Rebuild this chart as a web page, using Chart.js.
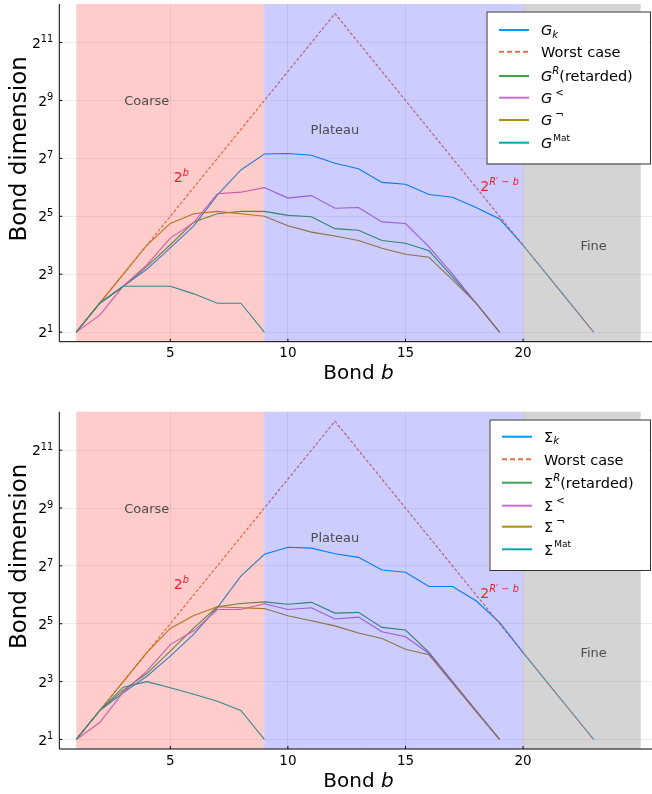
<!DOCTYPE html>
<html><head><meta charset="utf-8">
<script src="https://cdn.jsdelivr.net/npm/chart.js@4.4.1/dist/chart.umd.min.js"></script>
<style>
html,body{margin:0;padding:0;background:#fff;overflow:hidden;}
body{width:652px;height:794px;position:relative;}
.panel{position:absolute;left:0;width:660px;height:397px;}
</style></head><body>
<div class="panel" style="top:0"><canvas id="topChart"></canvas></div>
<div class="panel" style="top:397px"><canvas id="bottomChart"></canvas></div>
<script>
// ---------------- data ----------------
const bonds = [1,2,3,4,5,6,7,8,9,10,11,12,13,14,15,16,17,18,19,20,21,22,23];
const worstCase = [2,4,8,16,32,64,128,256,512,1024,2048,4096,2048,1024,512,256,128,64,32,16,8,4,2];

const gK         = [2,4,6,9,15,25.5,53,97,142,144,138,114,100,72,69,54,50.5,39.5,30,16,8,4,2];
const gRetarded  = [2,4,6,9.6,16.2,28,34,36,36,32.7,31.7,23.8,22.9,17.9,16.8,14,7.5,4,2];
const gLesser    = [2,3,6,10,19,27.5,55,57,63.6,49.5,52.5,38.8,39.5,28,26.9,15.4,8,4,2];
const gLeftMixed = [2,4,8,16,27,34,36,34,32,25.5,21.9,20,17.9,14.9,12.9,12,7,4,2];
const gMatsubara = [2,4,6,6,6,5,4,4,2];

const sigmaK         = [2,4,6.1,9.1,14.7,25,47,100,169,200,196,171,157,116,110,78,78,55.5,33,16,8,4,2];
const sigmaRetarded  = [2,4,6.5,9.7,16.6,29,48,52,54,51,53.4,41.3,42,29.3,27.5,16.1,8,4,2];
const sigmaLesser    = [2,3,6.2,10.3,19.4,27,45,45,51.6,45,47,35.8,37.5,26.4,23.4,15.7,8,4,2];
const sigmaLeftMixed = [2,4,8,16,28.6,39,48,47,46,38.8,34.4,30.4,25.6,22.5,17.4,15.2,7.7,3.9,2];
const sigmaMatsubara = [2,4,7,8,6.9,5.9,5,4,2];

const xTickValues = [5,10,15,20];
const yTickExponents = [1,3,5,7,9,11];
const regionNames = ['Coarse','Plateau','Fine'];
const regionBounds = [[1,9],[9,20],[20,25]];

// ---------------- styles / layout ----------------
const FONT = '"DejaVu Sans", sans-serif';
const COLORS = ['#009AFA','#E36F47','#3EA44E','#C271D2','#AC8E18','#00A9AD'];
const REGION_FILL = ['rgba(255,0,0,0.2)','rgba(0,0,255,0.2)','rgba(128,128,128,0.34)'];
const regionLabelPos = [[4,9],[12,8],[23,4]];   // (bond, log2 of value)

function pts(vals){ return vals.map((v,i)=>({x:bonds[i], y:v})); }

function drawRich(ctx, parts, x, yMid, align, size, color, supRaise, subDrop){
  supRaise = supRaise==null ? 0.5 : supRaise;
  subDrop = subDrop==null ? 0.16 : subDrop;
  const items = parts.map(p=>{
    const s = (p.sup||p.sub) ? size*(p.scale||0.7) : size;
    const font = (p.it?'italic ':'') + s + 'px ' + FONT;
    ctx.font = font;
    return {p, font, w: ctx.measureText(p.t).width, pre: p.gap||0};
  });
  const total = items.reduce((a,it)=>a+it.w+it.pre,0);
  let cx = align==='center' ? x-total/2 : (align==='right' ? x-total : x);
  const base = yMid + 0.364*size;
  ctx.fillStyle = color; ctx.textAlign='left'; ctx.textBaseline='alphabetic';
  items.forEach(it=>{
    cx += it.pre;
    ctx.font = it.font;
    let by = base;
    if (it.p.sup) by = base - supRaise*size;
    if (it.p.sub) by = base + subDrop*size;
    ctx.fillText(it.p.t, cx, by);
    cx += it.w;
  });
  return total;
}

const panelPlugin = {
  id:'panel',
  afterDatasetsDraw(chart){
    const {ctx, chartArea:a, scales:{x}} = chart;
    ctx.save();
    regionBounds.forEach((r,i)=>{
      const x0 = x.getPixelForValue(r[0]), x1 = x.getPixelForValue(r[1]);
      ctx.fillStyle = REGION_FILL[i];
      ctx.fillRect(x0, a.top, x1-x0, a.bottom-a.top);
    });
    ctx.restore();
  },
  afterDraw(chart){
    const {ctx, chartArea:a, scales:{x,y}} = chart;
    const o = chart.options.plugins.panel;
    ctx.save();
    // region labels
    regionNames.forEach((n,i)=>{
      const p = regionLabelPos[i];
      drawRich(ctx,[{t:n}], x.getPixelForValue(p[0]), y.getPixelForValue(Math.pow(2,p[1])), 'center', 13, '#4d4d4d');
    });
    // 2^b and 2^{R'-b}
    drawRich(ctx,[{t:'2'},{t:'b',it:1,sup:1}], x.getPixelForValue(5.47), y.getPixelForValue(Math.pow(2,6.36)), 'center', 14, '#f0202a', 0.45);
    drawRich(ctx,[{t:'2'},{t:'R\u2032 \u2212 b',it:1,sup:1}], x.getPixelForValue(19.0), y.getPixelForValue(Math.pow(2,6.05)), 'center', 14, '#f0202a', 0.45);
    // axes lines
    ctx.strokeStyle='#000'; ctx.lineWidth=1;
    ctx.beginPath();
    ctx.moveTo(a.left, a.top); ctx.lineTo(a.left, a.bottom); ctx.lineTo(a.right+5, a.bottom);
    ctx.stroke();
    // inner ticks
    ctx.beginPath();
    yTickExponents.forEach(e=>{ const py=y.getPixelForValue(Math.pow(2,e)); ctx.moveTo(a.left,py); ctx.lineTo(a.left+3,py); });
    xTickValues.forEach(v=>{ const px=x.getPixelForValue(v); ctx.moveTo(px,a.bottom); ctx.lineTo(px,a.bottom-3); });
    ctx.stroke();
    // y tick labels
    yTickExponents.forEach(e=>{
      drawRich(ctx,[{t:'2'},{t:String(e),sup:1,scale:0.7}], a.left-6, y.getPixelForValue(Math.pow(2,e)), 'right', 14, '#000', 0.37);
    });
    // axis titles
    drawRich(ctx,[{t:'Bond '},{t:'b',it:1}], (a.left+a.right)/2, a.bottom+30.5, 'center', 20, '#000');
    ctx.save();
    ctx.translate(18, (a.top+a.bottom)/2 - 24);
    ctx.rotate(-Math.PI/2);
    drawRich(ctx,[{t:'Bond dimension'}], 0, 0, 'center', 23, '#000');
    ctx.restore();
    // legend
    const L = o.legend;
    ctx.fillStyle='#fff'; ctx.fillRect(L.box[0],L.box[1],L.box[2],L.box[3]);
    ctx.strokeStyle='#333'; ctx.lineWidth=1; ctx.strokeRect(L.box[0]+0.5,L.box[1]+0.5,L.box[2],L.box[3]);
    o.labels.forEach((parts,i)=>{
      const ly = L.y[i];
      ctx.strokeStyle = COLORS[i]; ctx.lineWidth = 2;
      ctx.setLineDash(i===1?[5,3]:[]);
      ctx.beginPath(); ctx.moveTo(L.lx0, ly); ctx.lineTo(L.lx1, ly); ctx.stroke();
      ctx.setLineDash([]);
      drawRich(ctx, parts, L.tx, ly, 'left', 14.5, '#000', 0.5, 0.17);
    });
    ctx.restore();
  }
};

function makeChart(id, series, labels, labelsRich, padTop, areaBottom, legend){
  const datasets = series.map((vals,i)=>({
    label: labels[i],
    data: pts(vals),
    borderColor: COLORS[i],
    borderWidth: 1.1,
    borderDash: i===1 ? [3,2] : [],
    pointRadius: 0,
    fill: false,
    tension: 0,
    order: series.length - i
  }));
  return new Chart(document.getElementById(id), {
    type:'line',
    data:{datasets},
    options:{
      responsive:true, maintainAspectRatio:false, animation:false,
      layout:{padding:{top:padTop, right:2.4, left:0, bottom:0}},
      plugins:{legend:{display:false}, tooltip:{enabled:false},
        panel:{labels:labelsRich, legend}},
      scales:{
        x:{type:'linear', min:0.28, max:25.72,
          afterBuildTicks:s=>{ s.ticks = xTickValues.map(v=>({value:v})); },
          afterFit:s=>{ s.height = 397 - areaBottom; },
          grid:{color:'rgba(0,0,0,0.07)', drawTicks:false},
          border:{display:false},
          ticks:{font:{family:'DejaVu Sans', size:13.5}, color:'#000', padding:4, maxRotation:0}
        },
        y:{type:'logarithmic', min:Math.pow(2,0.67), max:Math.pow(2,12.33),
          afterBuildTicks:s=>{ s.ticks = yTickExponents.map(e=>({value:Math.pow(2,e)})); },
          afterFit:s=>{ s.width = 59.3; },
          grid:{color:'rgba(0,0,0,0.07)', drawTicks:false},
          border:{display:false},
          ticks:{display:false}
        }
      }
    },
    plugins:[panelPlugin]
  });
}

makeChart('topChart',
  [gK, worstCase, gRetarded, gLesser, gLeftMixed, gMatsubara],
  ['G_k','Worst case','G^R(retarded)','G^<','G^¬','G^Mat'],
  [
    [{t:'G',it:1},{t:'k',it:1,sub:1}],
    [{t:'Worst case'}],
    [{t:'G',it:1},{t:'R',it:1,sup:1},{t:'(retarded)'}],
    [{t:'G',it:1},{t:'<',sup:1,gap:3}],
    [{t:'G',it:1},{t:'\u00AC',sup:1,gap:3}],
    [{t:'G',it:1},{t:'Mat',sup:1,scale:0.62,gap:1}]
  ],
  4, 341.7,
  {box:[486.5,11.5,163.5,152], y:[30,51.7,76,97.7,120,142.7], lx0:499, lx1:529, tx:541}
);

makeChart('bottomChart',
  [sigmaK, worstCase, sigmaRetarded, sigmaLesser, sigmaLeftMixed, sigmaMatsubara],
  ['Σ_k','Worst case','Σ^R(retarded)','Σ^<','Σ^¬','Σ^Mat'],
  [
    [{t:'\u03A3'},{t:'k',it:1,sub:1}],
    [{t:'Worst case'}],
    [{t:'\u03A3'},{t:'R',it:1,sup:1},{t:'(retarded)'}],
    [{t:'\u03A3'},{t:'<',sup:1,gap:3}],
    [{t:'\u03A3'},{t:'\u00AC',sup:1,gap:3}],
    [{t:'\u03A3'},{t:'Mat',sup:1,scale:0.62,gap:1}]
  ],
  14.7, 352,
  {box:[489.5,22.5,160.5,150.5], y:[39.7,62.3,85.7,108.7,129.7,152.3], lx0:502, lx1:532, tx:544}
);
</script>
</body></html>
